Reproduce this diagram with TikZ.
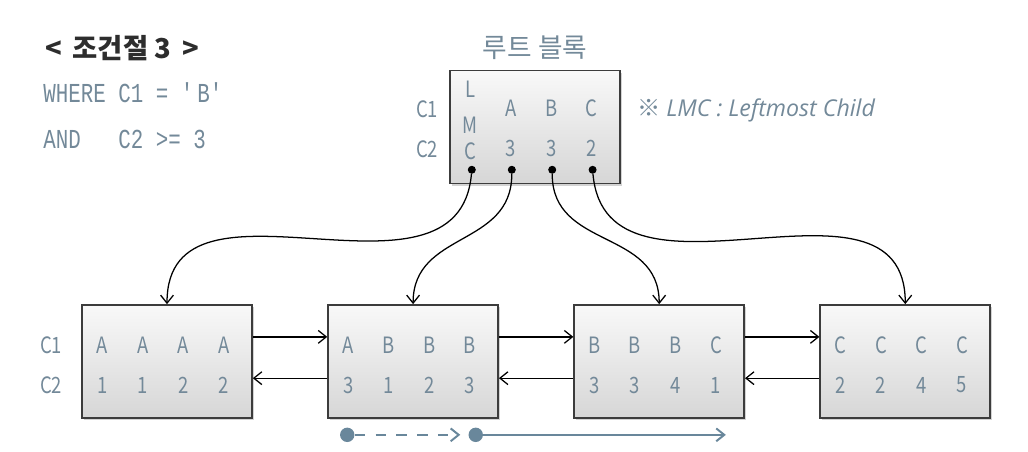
\documentclass[tikz,border=0pt]{standalone}
\usepackage{fontspec}
\setmainfont{Noto Sans CJK KR}
\newfontfamily\cellfont[FakeStretch=0.82]{Noto Sans CJK KR}
\newfontfamily\codefont[FakeStretch=0.76]{Liberation Mono}
\newfontfamily\notefont{Open Sans}
\usetikzlibrary{positioning, arrows.meta, calc, shadows}
\definecolor{labelblue}{RGB}{115,137,153}
\definecolor{scanblue}{RGB}{105,135,155}
\definecolor{boxedge}{RGB}{60,60,60}
\definecolor{titlegray}{RGB}{45,45,45}

\begin{document}
\begin{tikzpicture}[
    >={Straight Barb[length=2mm,width=3.2mm]},
    node distance=1.86cm,
    blockbox/.style={
        draw=boxedge,
        line width=1.2pt,
        top color=gray!5,
        bottom color=gray!32,
        minimum width=4.25cm,
        minimum height=2.825cm,
        drop shadow={opacity=0.35, shadow xshift=0.05cm, shadow yshift=-0.06cm}
    },
    celltext/.style={
        font=\cellfont\fontsize{16}{18}\selectfont,
        text=labelblue,
        inner sep=0pt
    },
    titletext/.style={
        font=\bfseries\fontsize{19.5}{22}\selectfont,
        text=titlegray,
        inner sep=0pt
    },
    codetext/.style={
        font=\codefont\fontsize{19.5}{22}\selectfont,
        text=labelblue,
        inner sep=0pt
    },
    roottitle/.style={
        font=\fontsize{19}{22}\selectfont,
        text=labelblue,
        inner sep=0pt
    },
    notetext/.style={
        font=\fontsize{16.5}{19}\selectfont,
        text=labelblue,
        inner sep=0pt
    },
    keydot/.style={circle, fill=black, inner sep=0pt, minimum size=0.2cm},
    scandot/.style={circle, fill=scanblue, inner sep=0pt, minimum size=0.36cm},
    linkarrow/.style={->, line width=0.9pt},
    scanarrow/.style={->, line width=1.4pt, draw=scanblue}
]
\useasboundingbox (0,0) rectangle (25.7,11.3);
% ============================================================
% CONDITION TEXT -- upper left
% ============================================================
\node[titletext, anchor=west] (cond) at (1.12,10.1) {<\, 조건절 3 \,>};
\node[codetext, anchor=west] (where) at (1.08,8.97)
    {WHERE C1 = \textquotesingle B\textquotesingle};
\node[codetext, anchor=west] (and) at (1.08,7.82)
    {AND\hphantom{WH} C2 >= 3};
% ============================================================
% ROOT BLOCK
% ============================================================
\node[blockbox] (root) at (13.375,8.125) {};
\node[roottitle] (roottitle) at ($(root.north)+(0,0.55)$) {루트 블록};
\node[celltext] (rootc1) at ($(root.west)+(-0.55,0.45)$) {C1};
\node[celltext] (rootc2) at ($(root.west)+(-0.55,-0.55)$) {C2};
% leftmost child column
\node[celltext] (lmcl) at ($(root.center)+(-1.62,0.95)$) {L};
\node[celltext] (lmcm) at ($(root.center)+(-1.62,0.05)$) {M};
\node[celltext] (lmcc) at ($(root.center)+(-1.62,-0.6)$) {C};
\foreach \k/\v [count=\j] in {A/3, B/3, C/2}{
    \node[celltext] (rootk\j) at ($(root.center)+({-1.62+1.013*\j},0.47)$) {\k};
    \node[celltext] (rootv\j) at ($(root.center)+({-1.62+1.013*\j},-0.53)$) {\v};
}
% child pointers
\node[keydot] (dot0) at ($(root.center)+(-1.58,-1.07)$) {};
\node[keydot] (dot1) at ($(root.center)+(-0.58,-1.07)$) {};
\node[keydot] (dot2) at ($(root.center)+(0.43,-1.07)$) {};
\node[keydot] (dot3) at ($(root.center)+(1.44,-1.07)$) {};
\node[notetext, anchor=base west] (note) at ($(root.east)+(0.42,0.27)$)
    {※ {\notefont\itshape LMC : Leftmost Child}};
% ============================================================
% LEAF BLOCKS -- left to right
% ============================================================
\node[blockbox] (leaf1) at (4.175,2.2625) {};
\node[blockbox, right=of leaf1] (leaf2) {};
\node[blockbox, right=of leaf2] (leaf3) {};
\node[blockbox, right=of leaf3] (leaf4) {};
\node[celltext] (leafc1) at ($(leaf1.west)+(-0.75,0.41)$) {C1};
\node[celltext] (leafc2) at ($(leaf1.west)+(-0.75,-0.59)$) {C2};
\foreach \leaf/\keys/\vals in {leaf1/{A,A,A,A}/{1,1,2,2},
                               leaf2/{A,B,B,B}/{3,1,2,3},
                               leaf3/{B,B,B,C}/{3,3,4,1},
                               leaf4/{C,C,C,C}/{2,2,4,5}}{
    \foreach \k [count=\j] in \keys
        \node[celltext] (\leaf-k\j) at ($(\leaf.center)+({-1.62+1.013*(\j-1)},0.41)$) {\k};
    \foreach \v [count=\j] in \vals
        \node[celltext] (\leaf-v\j) at ($(\leaf.center)+({-1.62+1.013*(\j-1)},-0.59)$) {\v};
}
% ============================================================
% ARROWS -- root to leaves
% ============================================================
\draw[linkarrow] (dot0) to[out=-95,in=90,looseness=1.15] (leaf1.north);
\draw[linkarrow] (dot1) to[out=-90,in=90,looseness=1.15] (leaf2.north);
\draw[linkarrow] (dot2) to[out=-90,in=90,looseness=1.15] (leaf3.north);
\draw[linkarrow] (dot3) to[out=-85,in=90,looseness=1.15] (leaf4.north);
% ============================================================
% ARROWS -- between leaves
% ============================================================
\draw[linkarrow] (leaf1.16)  -- (leaf2.164);
\draw[linkarrow] (leaf2.191) -- (leaf1.349);
\draw[linkarrow] (leaf2.16)  -- (leaf3.164);
\draw[linkarrow] (leaf3.191) -- (leaf2.349);
\draw[linkarrow] (leaf3.16)  -- (leaf4.164);
\draw[linkarrow] (leaf4.191) -- (leaf3.349);
% ============================================================
% SCAN RANGE -- below leaf 2 and leaf 3
% ============================================================
\node[scandot] (scan1) at ($(leaf2.south west)+(0.5,-0.4)$) {};
\node[scandot] (scan2) at ($(leaf2.south east)+(-0.58,-0.4)$) {};
\coordinate (scanend) at ($(leaf3.south east)+(-0.48,-0.4)$);
\draw[scanarrow, dash pattern=on 0.26cm off 0.26cm, shorten >=0.2cm] (scan1) -- (scan2);
\draw[scanarrow] (scan2) -- (scanend);
\end{tikzpicture}
\end{document}
